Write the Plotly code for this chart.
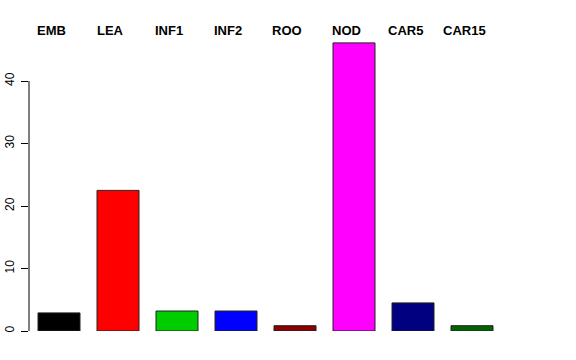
import plotly.graph_objects as go

categories = ["EMB", "LEA", "INF1", "INF2", "ROO", "NOD", "CAR5", "CAR15"]
values = [2.9, 22.5, 3.2, 3.2, 0.85, 46.1, 4.5, 0.85]
colors = ["#000000", "#FF0000", "#00CD00", "#0000FF", "#8B0000", "#FF00FF", "#000080", "#006400"]
ytick_vals = [0, 10, 20, 30, 40]

W, H = 576, 360
left, right = 29, 547
bottom_px, top_px = 331, 35
px_per_unit_x = 59.0
px_per_unit_y = 6.25
first_center_px = 59.0

x_pos = list(range(len(categories)))
x0 = -(first_center_px - left) / px_per_unit_x
x1 = x0 + (right - left) / px_per_unit_x
y_top = (bottom_px - top_px) / px_per_unit_y

fig = go.Figure()
fig.add_trace(go.Bar(
    x=x_pos, y=values,
    marker=dict(color=colors, line=dict(color="#222222", width=1)),
    width=42 / px_per_unit_x,
    hoverinfo="skip",
))

# category labels along the top (centred 8 px left of each bar centre)
label_offset_px, label_y_px = -8, 30
for i, name in enumerate(categories):
    cx = first_center_px + i * px_per_unit_x + label_offset_px
    fig.add_annotation(
        x=(cx - left) / (right - left), xref="paper",
        y=(bottom_px - label_y_px) / (bottom_px - top_px), yref="paper",
        text="<b>" + name + "</b>", showarrow=False,
        font=dict(family="Liberation Sans, Arial, sans-serif", size=13, color="black"),
        xanchor="center", yanchor="middle",
    )

# y axis line only from 0 to 40
fig.add_shape(type="line", xref="paper", yref="y", x0=0, x1=0,
              y0=ytick_vals[0], y1=ytick_vals[-1],
              line=dict(color="black", width=1))

fig.update_layout(
    width=W, height=H,
    margin=dict(l=left, r=W - right, t=top_px, b=H - bottom_px, pad=0, autoexpand=False),
    plot_bgcolor="white", paper_bgcolor="white",
    showlegend=False,
    xaxis=dict(range=[x0, x1], showticklabels=False, showgrid=False, automargin=False,
               zeroline=False, showline=False, ticks=""),
    yaxis=dict(range=[0, y_top], tickvals=ytick_vals, ticks="outside", automargin=False,
               ticklen=7, tickcolor="black", tickwidth=1, ticklabelstandoff=2,
               tickangle=-90, showgrid=False, zeroline=False, showline=False,
               tickfont=dict(family="Liberation Sans, Arial, sans-serif", size=12, color="black")),
)

fig.write_html("out.html")
